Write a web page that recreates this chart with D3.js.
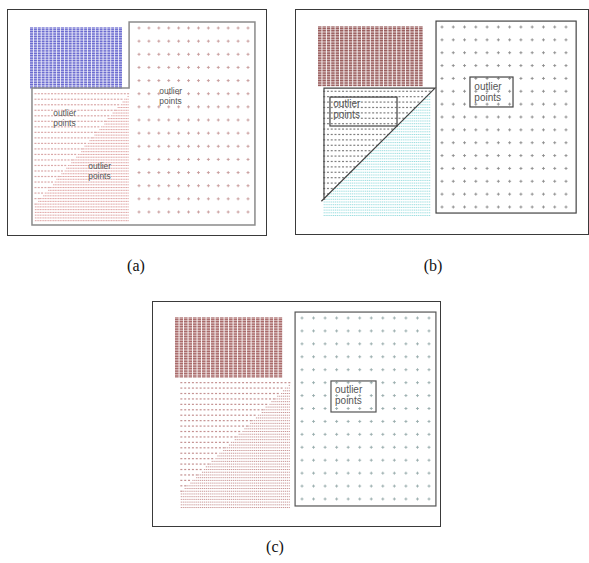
<!DOCTYPE html>
<html><head><meta charset="utf-8">
<script src="https://cdn.jsdelivr.net/npm/d3@7"></script>
<style>body{margin:0;background:#fff}svg{display:block}</style>
</head><body>
<script>
// Synthetic point set: four regular lattices (data units).
const clusterNames = ["block", "upperTriangle", "lowerTriangle", "spread"];
const colStart = [-11.0, -10.45, -10.45, 0];
const colStep  = [0.39, 0.334, 0.167, 1];
const colCount = [24, 29, 57, 12];
const rowStart = [9.45, -0.66, -0.66, 0];
const rowStep  = [0.13, 0.42, 0.21, 1];
const rowCount = [36, 24, 47, 15];

// Diagonal separating the coarse (upper) and fine (lower) triangles.
const splitFrom = [-10.65, 0.4];
const splitTo   = [-0.7, 9.25];

// Cluster colours for the three clusterings.
const panelNames   = ["(a)", "(b)", "(c)"];
const blockColors  = ["#6b6bd0", "#9a5e5e", "#a96a6a"];
const upperColors  = ["#cf8c8c", "#555555", "#b06c6c"];
const lowerColors  = ["#d48484", "#78d2d4", "#b87676"];
const spreadColors = ["#c79a9a", "#8c8c8c", "#97abab"];

// "outlier points" annotations: [x, baseline y] in data units.
const notesA = [[-8.65, 7.31], [2.05, 8.98], [-5.12, 3.27]];
const notesB = [[-9.65, 7.78], [2.87, 9.10]];
const notesC = [[2.86, 8.2]];
const noteLines = ["outlier", "points"];

// Outline shapes in data units.
const outlineA = [[-10.8, 9.44], [-1.0, 9.44], [-1.0, 14.46], [11.7, 14.46], [11.7, -0.99], [-10.8, -0.99]];
const outlineB = [[-10.47, 0.6], [-10.47, 9.25], [-0.62, 9.25], [-10.7, 0.45]];
const boxesB = [[-9.94, 8.55, -3.99, 6.30], [2.48, 10.11, 6.30, 7.78], [-0.53, 14.46, 11.9, -0.47]];
const boxesC = [[2.51, 9.13, 6.41, 6.73], [-0.6, 14.46, 11.6, -0.54]];

// Page layout of the three panels.
const layout = [
  {frame: [7, 9, 266, 235],    xr: [30, 248],  yr: [212, 28],  label: [136, 271], fs: 8.4, lh: 9.6, line: "#8a8a8a", lw: 1.5},
  {frame: [295, 9, 588, 234],  xr: [318, 566], yr: [207, 27],  label: [433, 271], fs: 10, lh: 11.2, line: "#444", lw: 1.2},
  {frame: [152, 301, 440, 526], xr: [175, 429], yr: [499, 318], label: [275, 552], fs: 10, lh: 11.2, line: "#555", lw: 1.2}
];
const notes = [notesA, notesB, notesC];
const outlines = [[outlineA, true], [outlineB, false], null];
const boxes = [[], boxesB, boxesC];

function lattice(i) {
  const pts = [];
  for (let c = 0; c < colCount[i]; c++)
    for (let r = 0; r < rowCount[i]; r++)
      pts.push([colStart[i] + c * colStep[i], rowStart[i] + r * rowStep[i]]);
  return pts;
}
const splitY = x => splitFrom[1] + (x - splitFrom[0]) * (splitTo[1] - splitFrom[1]) / (splitTo[0] - splitFrom[0]);
const points = {
  block: lattice(0),
  upperTriangle: lattice(1).filter(d => d[1] >= splitY(d[0])),
  lowerTriangle: lattice(2).filter(d => d[1] < splitY(d[0])),
  spread: lattice(3)
};

const svg = d3.select("body").append("svg").attr("width", 589).attr("height", 563);

layout.forEach((L, p) => {
  const x = d3.scaleLinear().domain([-11, 11]).range(L.xr);
  const y = d3.scaleLinear().domain([0, 14]).range(L.yr);
  const g = svg.append("g");

  g.append("rect")
    .attr("x", L.frame[0] + 0.5).attr("y", L.frame[1] + 0.5)
    .attr("width", L.frame[2] - L.frame[0]).attr("height", L.frame[3] - L.frame[1])
    .attr("fill", "#fff").attr("stroke", "#3a3a3a").attr("stroke-width", 1);

  // dense block
  const bw = Math.abs(x(colStep[0]) - x(0)) * 0.8;
  g.append("g").selectAll("rect").data(points.block).join("rect")
    .attr("x", d => x(d[0])).attr("y", d => y(d[1]) - 0.65)
    .attr("width", bw).attr("height", 1.3)
    .attr("fill", blockColors[p]);

  // coarse upper triangle
  g.append("g").selectAll("rect").data(points.upperTriangle).join("rect")
    .attr("x", d => x(d[0]) - 1).attr("y", d => y(d[1]) - 0.6)
    .attr("width", 2).attr("height", 1.2)
    .attr("fill", upperColors[p]).attr("opacity", 0.75);

  // fine lower triangle
  g.append("g").selectAll("rect").data(points.lowerTriangle).join("rect")
    .attr("x", d => x(d[0]) - 0.6).attr("y", d => y(d[1]) - 0.5)
    .attr("width", 1.2).attr("height", 1.0)
    .attr("fill", lowerColors[p]).attr("opacity", 0.75);

  // spread-out grid
  g.append("g").selectAll("path").data(points.spread).join("path")
    .attr("d", d => `M${x(d[0]) - 1.5},${y(d[1])}h3M${x(d[0])},${y(d[1]) - 1.5}v3`)
    .attr("stroke", spreadColors[p]).attr("stroke-width", 0.9).attr("fill", "none");

  // outlines
  const line = d3.line().x(d => x(d[0])).y(d => y(d[1]));
  if (outlines[p]) {
    const [pts, closed] = outlines[p];
    g.append("path").attr("d", line(pts) + (closed ? "Z" : ""))
      .attr("fill", "none").attr("stroke", L.line).attr("stroke-width", L.lw);
  }
  boxes[p].forEach(b => {
    g.append("rect")
      .attr("x", x(b[0])).attr("y", y(b[1]))
      .attr("width", x(b[2]) - x(b[0])).attr("height", y(b[3]) - y(b[1]))
      .attr("fill", "none").attr("stroke", L.line).attr("stroke-width", L.lw);
  });

  // annotations
  notes[p].forEach(n => {
    const t = g.append("text")
      .attr("font-family", "'Liberation Sans', Arial, sans-serif")
      .attr("font-size", L.fs).attr("fill", "#555");
    noteLines.forEach((s, k) => {
      t.append("tspan").attr("x", x(n[0])).attr("y", y(n[1]) + k * L.lh).text(s);
    });
  });

  svg.append("text")
    .attr("x", L.label[0]).attr("y", L.label[1])
    .attr("text-anchor", "middle")
    .attr("font-family", "'Liberation Serif', 'Times New Roman', serif")
    .attr("font-size", 16).attr("fill", "#111")
    .text(panelNames[p]);
});
</script>
</body></html>
